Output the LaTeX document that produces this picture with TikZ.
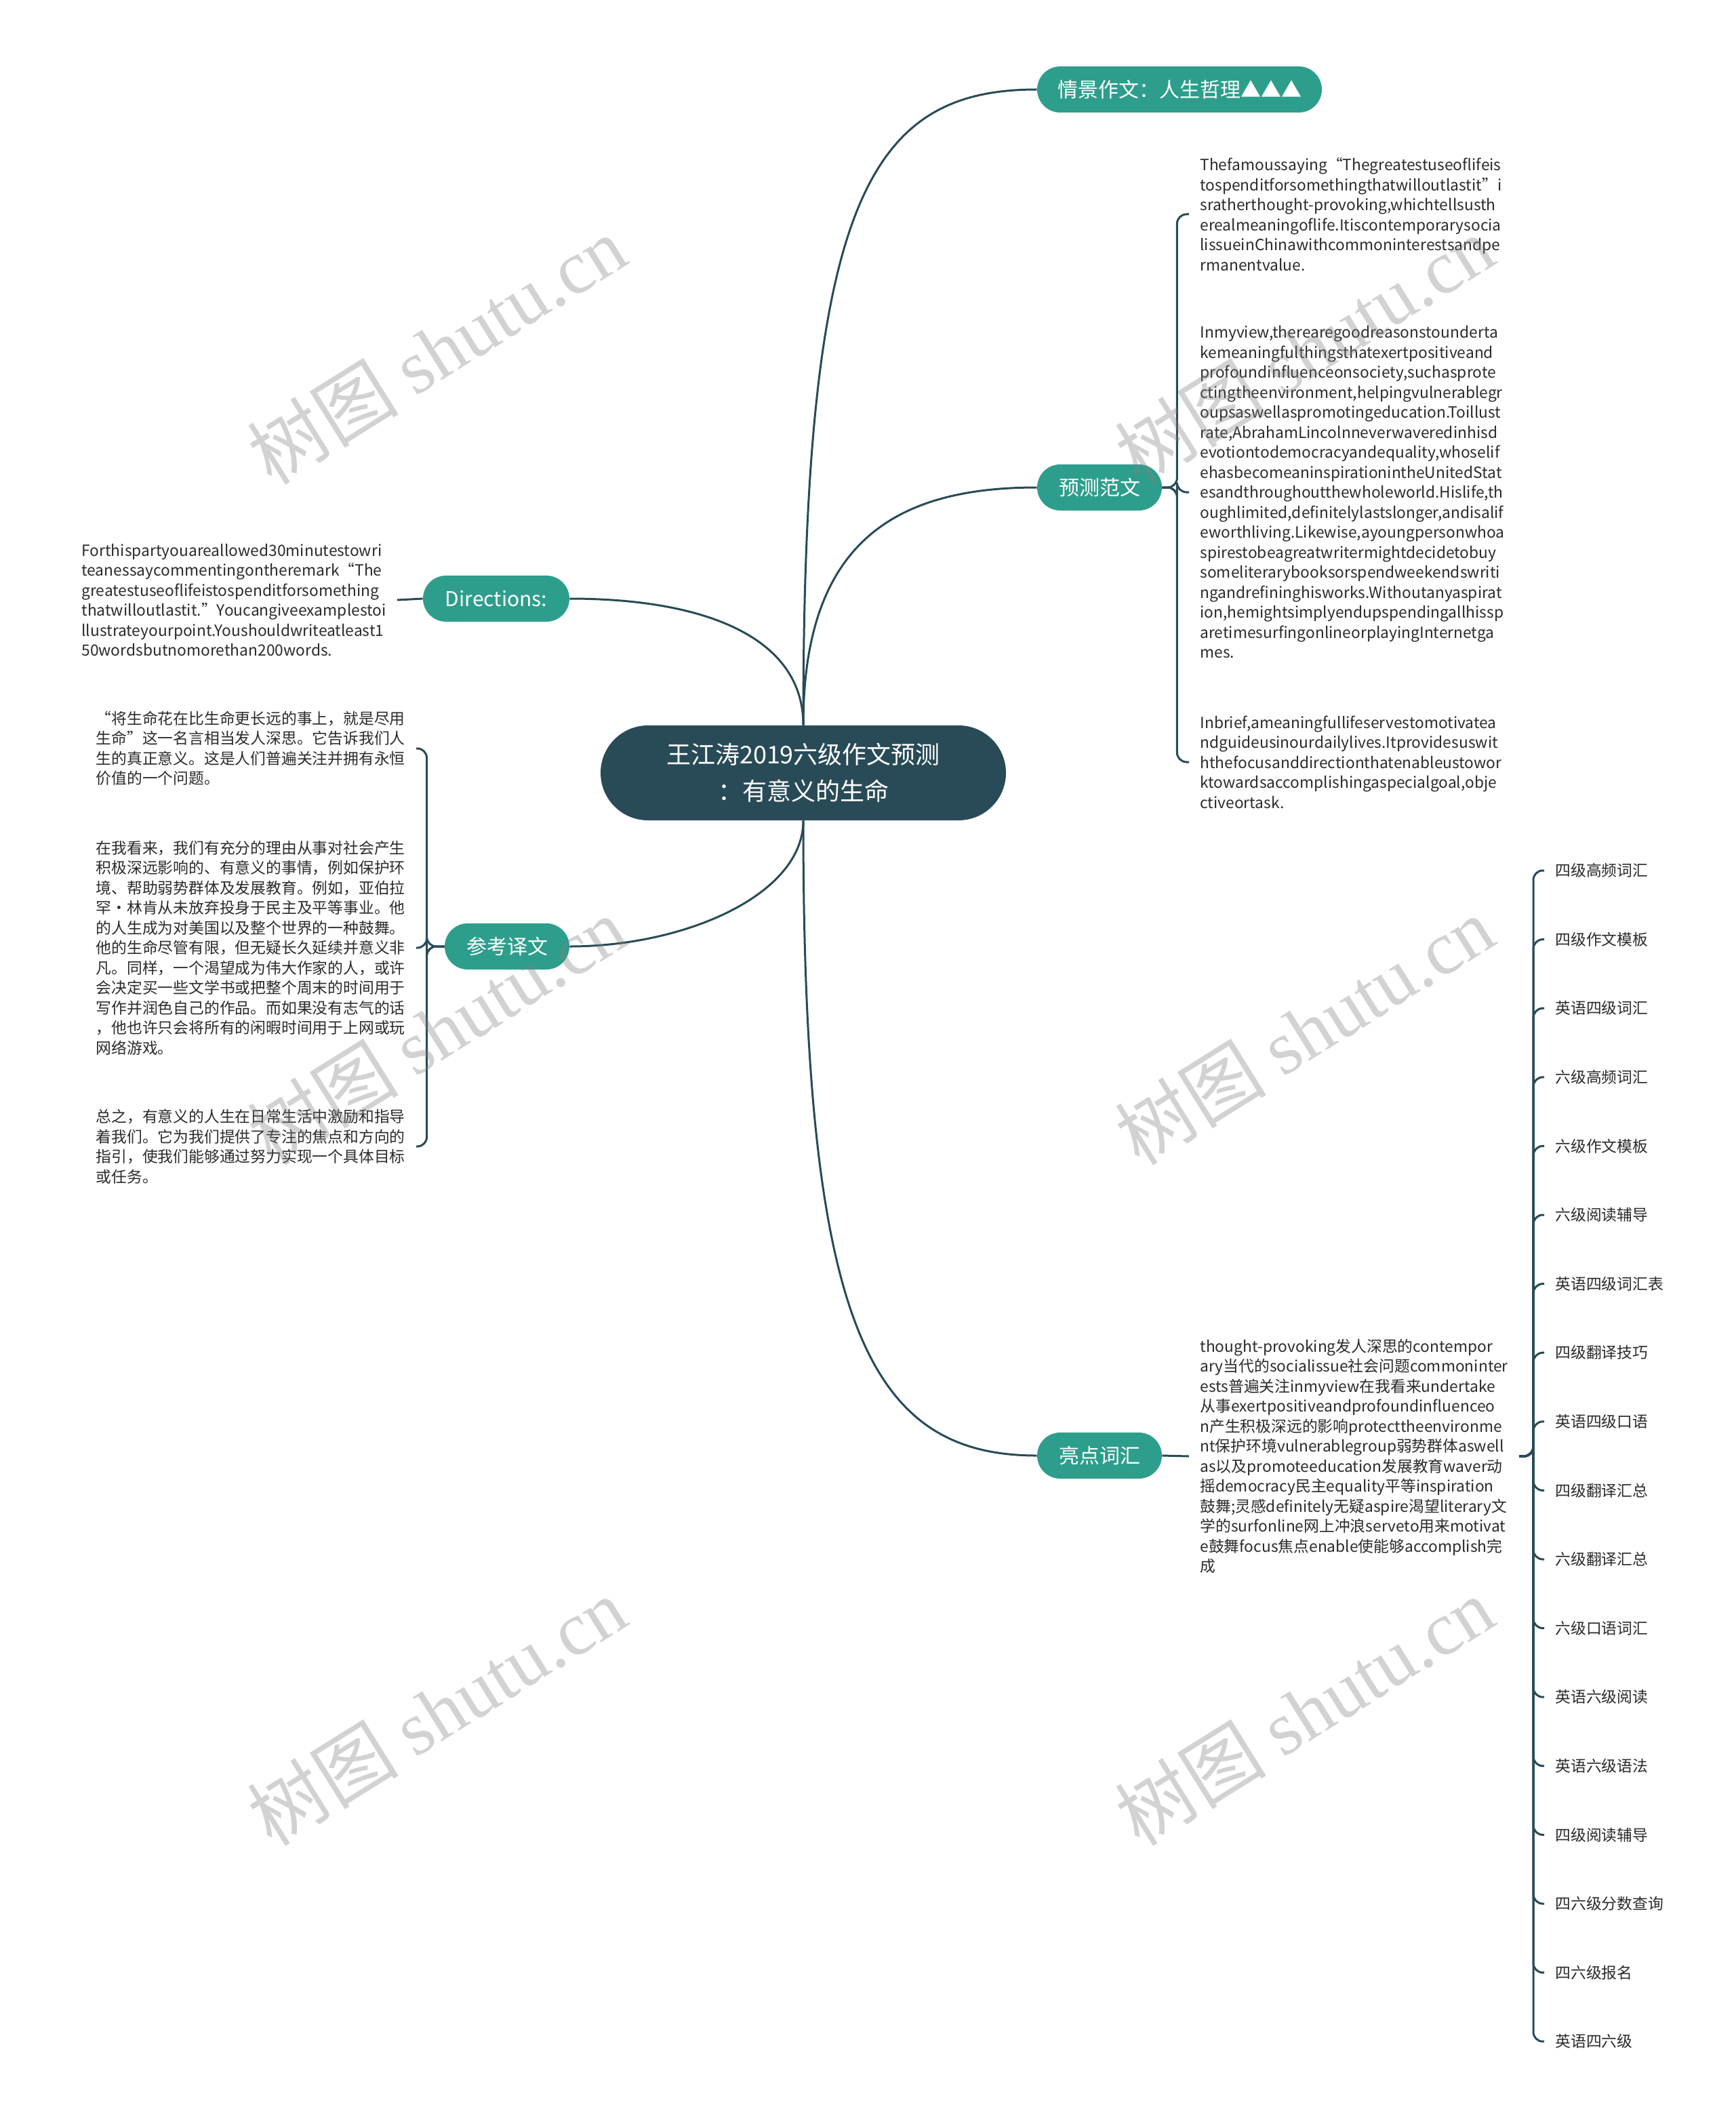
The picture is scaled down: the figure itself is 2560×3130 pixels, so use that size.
\documentclass[tikz,border=0pt]{standalone}
\usepackage{fontspec}
\setmainfont{Noto Sans CJK SC}
\newfontfamily\wmserif{Liberation Serif}
\definecolor{dk}{HTML}{284B57}
\definecolor{brc}{HTML}{2E9E8C}
\definecolor{txt}{HTML}{2B2B2B}
\tikzset{
  conn/.style={draw=dk, line width=1.5pt},
  brk/.style={conn, rounded corners=7pt},
  mainnode/.style={fill=dk, text=white, rounded corners=35pt, minimum width=299pt, minimum height=70pt, align=center, font=\fontsize{18pt}{27pt}\selectfont, inner sep=0pt},
  branch/.style={fill=brc, text=white, rounded corners=17pt, minimum height=34pt, font=\fontsize{15pt}{18pt}\selectfont, inner sep=0pt},
  leaf/.style={inner xsep=8pt, inner ysep=2pt, align=left, text=txt, font=\fontsize{11.4pt}{14.75pt}\selectfont},
  wm/.style={text=gray, opacity=0.35, rotate=32, font=\fontsize{56pt}{60pt}\selectfont}
}
\begin{document}
\begin{tikzpicture}[x=0.5pt, y=-0.5pt]
\useasboundingbox (0,0) rectangle (2560,3130);
\fill[white] (0,0) rectangle (2560,3130);

% central and branches
\node[mainnode] (c) at (1185,1140) {王江涛2019六级作文预测\\：有意义的生命};
\node[branch, minimum width=210pt] (qj) at (1740,132) {情景作文：人生哲理▲▲▲};
\node[branch, minimum width=92pt] (yc) at (1622,719) {预测范文};
\node[branch, minimum width=108pt] (dr) at (732,883) {Directions:};
\node[branch, minimum width=92pt] (ck) at (748,1396) {参考译文};
\node[branch, minimum width=92pt] (ld) at (1622,2147) {亮点词汇};

\draw[conn] (c.north) .. controls (1185,300) and (1280,132) .. (qj.west);
\draw[conn] (c.north) .. controls (1185,800) and (1320,719) .. (yc.west);
\draw[conn] (c.north) .. controls (1185,940) and (1040,883) .. (dr.east);
\draw[conn] (c.south) .. controls (1185,1320) and (1010,1396) .. (ck.east);
\draw[conn] (c.south) .. controls (1185,1950) and (1280,2147) .. (ld.west);

% 预测范文 leaves
\node[leaf, anchor=west] (p1) at (1754,316) {Thefamoussaying“Thegreatestuseoflifeis\\tospenditforsomethingthatwilloutlastit”i\\sratherthought-provoking,whichtellsusth\\erealmeaningoflife.Itiscontemporarysocia\\lissueinChinawithcommoninterestsandpe\\rmanentvalue.};
\node[leaf, anchor=west] (p2) at (1754,726) {Inmyview,therearegoodreasonstounderta\\kemeaningfulthingsthatexertpositiveand\\profoundinfluenceonsociety,suchasprote\\ctingtheenvironment,helpingvulnerablegr\\oupsaswellaspromotingeducation.Toillust\\rate,AbrahamLincolnneverwaveredinhisd\\evotiontodemocracyandequality,whoselif\\ehasbecomeaninspirationintheUnitedStat\\esandthroughoutthewholeworld.Hislife,th\\oughlimited,definitelylastslonger,andisalif\\eworthliving.Likewise,ayoungpersonwhoa\\spirestobeagreatwritermightdecidetobuy\\someliterarybooksorspendweekendswriti\\ngandrefininghisworks.Withoutanyaspirat\\ion,hemightsimplyendupspendingallhissp\\aretimesurfingonlineorplayingInternetga\\mes.};
\node[leaf, anchor=west] (p3) at (1754,1124) {Inbrief,ameaningfullifeservestomotivatea\\ndguideusinourdailylives.Itprovidesuswit\\hthefocusanddirectionthatenableustowor\\ktowardsaccomplishingaspecialgoal,obje\\ctiveortask.};
\foreach \n in {p1,p2,p3} \draw[brk] (yc.east) -- ++(22,0) |- (\n.west);

% Directions leaf
\node[leaf, anchor=east] (d1) at (586,885) {Forthispartyouareallowed30minutestowri\\teanessaycommentingontheremark“The\\greatestuseoflifeistospenditforsomething\\thatwilloutlastit.”Youcangiveexamplestoi\\llustrateyourpoint.Youshouldwriteatleast1\\50wordsbutnomorethan200words.};
\draw[conn] (dr.west) -- (d1.east);

% 参考译文 leaves
\node[leaf, anchor=east] (k1) at (614,1104) {“将生命花在比生命更长远的事上，就是尽用\\生命”这一名言相当发人深思。它告诉我们人\\生的真正意义。这是人们普遍关注并拥有永恒\\价值的一个问题。};
\node[leaf, anchor=east] (k2) at (614,1398) {在我看来，我们有充分的理由从事对社会产生\\积极深远影响的、有意义的事情，例如保护环\\境、帮助弱势群体及发展教育。例如，亚伯拉\\罕·林肯从未放弃投身于民主及平等事业。他\\的人生成为对美国以及整个世界的一种鼓舞。\\他的生命尽管有限，但无疑长久延续并意义非\\凡。同样，一个渴望成为伟大作家的人，或许\\会决定买一些文学书或把整个周末的时间用于\\写作并润色自己的作品。而如果没有志气的话\\，他也许只会将所有的闲暇时间用于上网或玩\\网络游戏。};
\node[leaf, anchor=east] (k3) at (614,1691) {总之，有意义的人生在日常生活中激励和指导\\着我们。它为我们提供了专注的焦点和方向的\\指引，使我们能够通过努力实现一个具体目标\\或任务。};
\foreach \n in {k1,k2,k3} \draw[brk] (ck.west) -- ++(-26,0) |- (\n.east);

% 亮点词汇 leaf
\node[leaf, anchor=west] (h1) at (1754,2148) {thought-provoking发人深思的contempor\\ary当代的socialissue社会问题commoninter\\ests普遍关注inmyview在我看来undertake\\从事exertpositiveandprofoundinfluenceo\\n产生积极深远的影响protecttheenvironme\\nt保护环境vulnerablegroup弱势群体aswell\\as以及promoteeducation发展教育waver动\\摇democracy民主equality平等inspiration\\鼓舞;灵感definitely无疑aspire渴望literary文\\学的surfonline网上冲浪serveto用来motivat\\e鼓舞focus焦点enable使能够accomplish完\\成};
\draw[conn] (ld.east) -- (h1.west);

\coordinate (sp) at (2262,2148);
\foreach \t [count=\i] in {四级高频词汇,四级作文模板,英语四级词汇,六级高频词汇,六级作文模板,六级阅读辅导,英语四级词汇表,四级翻译技巧,英语四级口语,四级翻译汇总,六级翻译汇总,六级口语词汇,英语六级阅读,英语六级语法,四级阅读辅导,四六级分数查询,四六级报名,英语四六级}{
  \node[leaf, anchor=west] (L\i) at (2278,{1284+101.6*(\i-1)}) {\t};
  \draw[brk] (h1.east) -| (sp) |- (L\i.west);
}

% watermarks
\foreach \wx/\wy in {644/516,1924/516,644/1520,1924/1520,644/2524,1924/2524}{
  \node[wm] at (\wx,\wy) {树图 {\wmserif shutu.cn}};
}
\end{tikzpicture}
\end{document}
